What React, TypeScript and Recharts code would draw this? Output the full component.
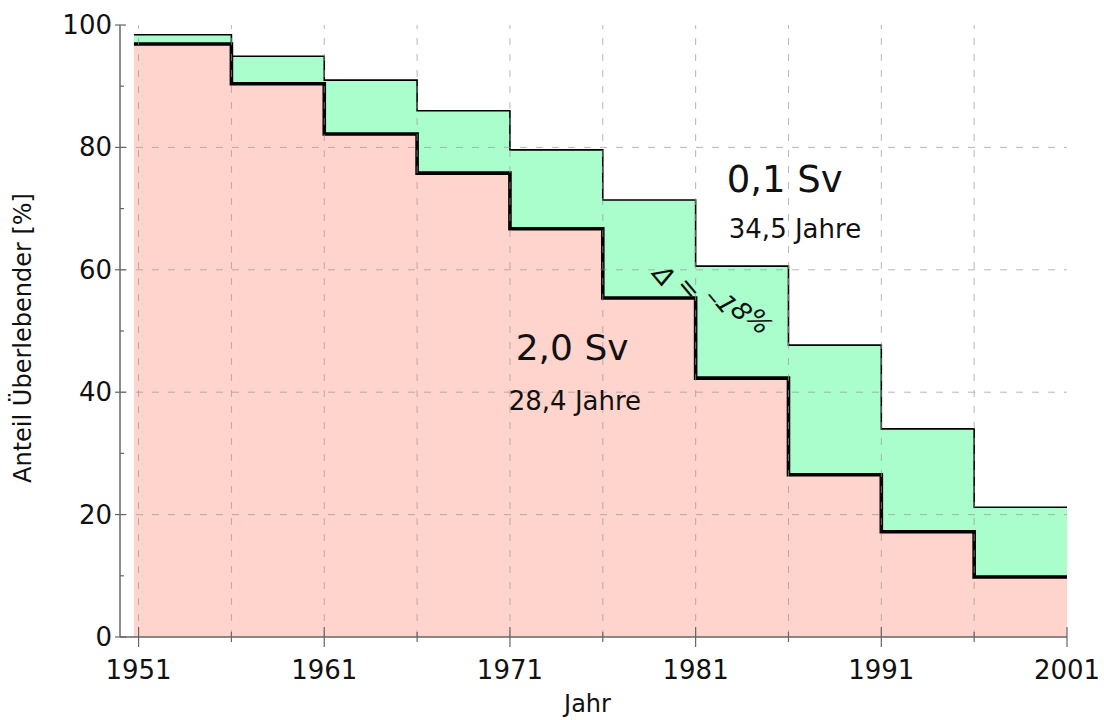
import React from 'react';
import { ComposedChart, Area, XAxis, YAxis, ReferenceLine, ReferenceDot } from 'recharts';

// step start years (interval begins), last entry closes the final step
const years = [1950.75, 1956, 1961, 1966, 1971, 1976, 1981, 1986, 1991, 1996, 2001];
// 0,1 Sv survivors [%]
const survivalLowDose = [98.4, 94.9, 91.0, 86.0, 79.6, 71.4, 60.6, 47.7, 34.0, 21.2, 21.2];
// 2,0 Sv survivors [%]
const survivalHighDose = [96.9, 90.4, 82.2, 75.8, 66.7, 55.4, 42.3, 26.5, 17.2, 9.8, 9.8];

const xTicks = [1951, 1956, 1961, 1966, 1971, 1976, 1981, 1986, 1991, 1996, 2001];
const xLabelTicks = [1951, 1961, 1971, 1981, 1991, 2001];
const xGrid = [1951, 1956, 1961, 1966, 1971, 1976, 1981, 1986, 1991, 1996];
const topTicks = [1955, 1960, 1965, 1970, 1975, 1980, 1985, 1990, 1995, 2000];
const yTicks = [0, 10, 20, 30, 40, 50, 60, 70, 80, 90, 100];
const yLabelTicks = [0, 20, 40, 60, 80, 100];
const yGrid = [20, 40, 60, 80];

const data = years.map((y, i) => ({ year: y, low: survivalLowDose[i], high: survivalHighDose[i] }));

const FONT = '"DejaVu Sans", sans-serif';
const AXIS = '#666';
const TEXT = '#111';

const XTick = (props: any) => {
  const { x, y, payload } = props;
  const v = payload.value;
  const major = xLabelTicks.includes(v);
  return (
    <g>
      <line x1={x} x2={x} y1={y - (major ? 10 : 5)} y2={y + (major ? 10 : 5)} stroke={AXIS} strokeWidth={1.2} />
      {major && (
        <text x={x} y={y + 42} textAnchor="middle" fontSize={26} fontFamily={FONT} fill={TEXT}>
          {v}
        </text>
      )}
    </g>
  );
};

const TopTick = (props: any) => {
  const { x, y } = props;
  return <line x1={x} x2={x} y1={y} y2={y + 7} stroke={AXIS} strokeWidth={1.2} />;
};

const YTick = (props: any) => {
  const { x, y, payload } = props;
  const v = payload.value;
  const major = yLabelTicks.includes(v);
  return (
    <g>
      <line x1={x - (major ? 5 : 0)} x2={x + (major ? 6 : 4)} y1={y} y2={y} stroke={AXIS} strokeWidth={1.2} />
      {major && (
        <text x={x - 8} y={y} textAnchor="end" dominantBaseline="central" fontSize={26} fontFamily={FONT} fill={TEXT}>
          {v}
        </text>
      )}
    </g>
  );
};

const RightTick = (props: any) => {
  const { x, y, payload } = props;
  const major = yLabelTicks.includes(payload.value);
  return <line x1={x - (major ? 8 : 4)} x2={x} y1={y} y2={y} stroke={AXIS} strokeWidth={1.2} />;
};

const textShape = (label: string, size: number, opts: any = {}) => (p: any) => (
  <text
    x={p.cx}
    y={p.cy}
    textAnchor="middle"
    fontSize={size}
    fontFamily={FONT}
    fill={TEXT}
    {...opts}
    transform={opts.rotate ? `rotate(${opts.rotate} ${p.cx} ${p.cy})` : undefined}
  >
    {label}
  </text>
);

export default function App() {
  return (
    <div style={{ position: 'absolute', left: 0, top: 0, background: '#fff' }}>
      <ComposedChart width={1104} height={720} data={data} margin={{ top: 25, right: 37, bottom: 0, left: 0 }}>
        <XAxis
          dataKey="year"
          type="number"
          domain={[1950, 2001]}
          ticks={xTicks}
          allowDataOverflow
          height={83}
          tickSize={0}
          tickMargin={0}
          tickLine={false}
          tick={<XTick />}
          axisLine={{ stroke: AXIS, strokeWidth: 1.5 }}
          interval={0}
          label={(p: any) => {
            const vb = p.viewBox || {};
            return (
              <text x={(vb.x ?? 120) + (vb.width ?? 947) / 2 - 6} y={(vb.y ?? 637) + 75} textAnchor="middle" fontSize={24} fontFamily={FONT} fill={TEXT}>
                Jahr
              </text>
            );
          }}
        />
        <XAxis
          xAxisId="top"
          orientation="top"
          type="number"
          domain={[1950, 2001]}
          ticks={topTicks}
          allowDataOverflow
          height={0}
          tickSize={0}
          tickMargin={0}
          tickLine={false}
          tick={<TopTick />}
          axisLine={{ stroke: AXIS, strokeWidth: 1.5 }}
          interval={0}
        />
        <YAxis
          type="number"
          domain={[0, 100]}
          ticks={yTicks}
          width={120}
          tickSize={0}
          tickMargin={0}
          tickLine={false}
          tick={<YTick />}
          axisLine={{ stroke: AXIS, strokeWidth: 1.5 }}
          interval={0}
          label={() => (
            <text
              x={23}
              y={338}
              textAnchor="middle"
              dominantBaseline="central"
              fontSize={24}
              fontFamily={FONT}
              fill={TEXT}
              transform="rotate(-90 23 338)"
            >
              Anteil Überlebender [%]
            </text>
          )}
        />
        <YAxis
          yAxisId="right"
          orientation="right"
          type="number"
          domain={[0, 100]}
          ticks={yTicks}
          width={0}
          tickSize={0}
          tickMargin={0}
          tickLine={false}
          tick={<RightTick />}
          axisLine={{ stroke: AXIS, strokeWidth: 1.5 }}
          interval={0}
        />
        <Area
          type="stepAfter"
          dataKey="low"
          stroke="#000"
          strokeWidth={1.6}
          fill="#A9FECB"
          fillOpacity={1}
          dot={false}
          activeDot={false}
          isAnimationActive={false}
        />
        <Area
          type="stepAfter"
          dataKey="high"
          stroke="#000"
          strokeWidth={3.6}
          fill="#FFD4CC"
          fillOpacity={1}
          dot={false}
          activeDot={false}
          isAnimationActive={false}
        />
        {xGrid.map((v) => (
          <ReferenceLine key={'gx' + v} x={v} stroke="#999" strokeOpacity={0.7} strokeWidth={1} strokeDasharray="7 9" />
        ))}
        {yGrid.map((v) => (
          <ReferenceLine key={'gy' + v} y={v} stroke="#999" strokeOpacity={0.7} strokeWidth={1} strokeDasharray="7 9" />
        ))}
        <ReferenceDot x={1985.8} y={72.7} r={0} shape={textShape('0,1 Sv', 37)} />
        <ReferenceDot x={1986.35} y={65.2} r={0} shape={textShape('34,5 Jahre', 26)} />
        <ReferenceDot x={1974.35} y={45.3} r={0} shape={textShape('2,0 Sv', 36)} />
        <ReferenceDot x={1974.5} y={37.1} r={0} shape={textShape('28,4 Jahre', 26)} />
        <ReferenceDot
          x={1981.93}
          y={56.2}
          r={0}
          shape={textShape('Δ = –18%', 26, { rotate: 25, fontStyle: 'italic', dominantBaseline: 'central' })}
        />
      </ComposedChart>
    </div>
  );
}
